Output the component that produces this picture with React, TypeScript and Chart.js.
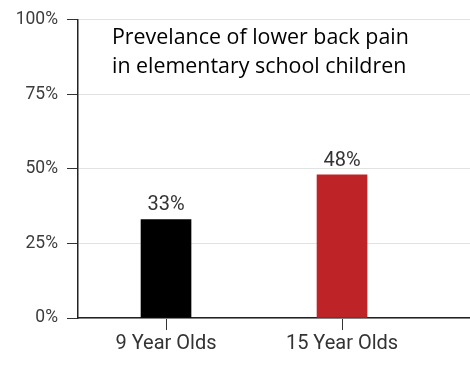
import React, { useEffect, useRef } from "react";
import { Chart, registerables } from "chart.js";

Chart.register(...registerables);

const categories = ["9 Year Olds", "15 Year Olds"];
const values = [33, 48];
const barColors = ["#000000", "#BE2327"];
const yTicks = [0, 25, 50, 75, 100];
const titleLines = ["Prevelance of lower back pain", "in elementary school children"];

const labelPlugin = {
  id: "barLabels",
  afterDatasetsDraw(chart: any) {
    const ctx = chart.ctx;
    const meta = chart.getDatasetMeta(0);
    ctx.save();
    ctx.font = "20px Roboto";
    ctx.fillStyle = "#333333";
    ctx.textAlign = "center";
    ctx.textBaseline = "alphabetic";
    meta.data.forEach((el: any, i: number) => {
      ctx.fillText(values[i] + "%", el.x, el.y - 9);
    });
    ctx.restore();
  },
};

const titlePlugin = {
  id: "innerTitle",
  afterDraw(chart: any) {
    const ctx = chart.ctx;
    const area = chart.chartArea;
    ctx.save();
    ctx.font = "21.4px 'Open Sans'";
    ctx.fillStyle = "#000000";
    ctx.textAlign = "left";
    ctx.textBaseline = "alphabetic";
    titleLines.forEach((line, i) => {
      ctx.fillText(line, area.left + 34, area.top + 24 + i * 29);
    });
    ctx.restore();
  },
};

export default function App() {
  const ref = useRef<HTMLCanvasElement | null>(null);
  useEffect(() => {
    if (!ref.current) return;
    const chart = new Chart(ref.current, {
      type: "bar",
      data: {
        datasets: [
          {
            data: values.map((v, i) => ({ x: i, y: v })),
            backgroundColor: barColors,
            borderWidth: 0,
            barThickness: 50,
          },
        ],
      },
      options: {
        animation: false,
        responsive: false,
        layout: { padding: { top: 15, right: 0, left: 0, bottom: 0 } },
        plugins: { legend: { display: false }, tooltip: { enabled: false }, title: { display: false } },
        scales: {
          x: {
            type: "linear",
            min: -0.5,
            max: 1.727,
            offset: false,
            afterBuildTicks: (scale: any) => {
              scale.ticks = categories.map((_, i) => ({ value: i }));
            },
            afterFit: (scale: any) => {
              scale.height = 51;
            },
            grid: { offset: false, drawOnChartArea: false, drawTicks: true, tickLength: 12, tickColor: "#333333" },
            border: { display: true, color: "#222222", width: 1.5 },
            ticks: {
              autoSkip: false,
              maxRotation: 0,
              padding: 2,
              color: "#333333",
              font: { family: "Roboto", size: 20 },
              callback: (v: any) => categories[v] ?? "",
            },
          },
          y: {
            min: 0,
            max: 100,
            afterBuildTicks: (scale: any) => {
              scale.ticks = yTicks.map((v) => ({ value: v }));
            },
            afterFit: (scale: any) => {
              scale.width = 78;
            },
            grid: { color: "#e2e2e2", tickLength: 11, tickColor: "#333333", lineWidth: 1 },
            border: { display: true, color: "#222222", width: 1.5 },
            ticks: {
              padding: 9,
              color: "#3c3c3c",
              font: { family: "Roboto", size: 17.5 },
              callback: (v: any) => v + "%",
            },
          },
        },
      },
      plugins: [labelPlugin, titlePlugin],
    } as any);
    return () => chart.destroy();
  }, []);
  return (
    <div style={{ position: "fixed", left: 0, top: 0, width: 470, height: 369, background: "#fff" }}>
      <canvas ref={ref} width={470} height={369} style={{ display: "block" }} />
    </div>
  );
}
